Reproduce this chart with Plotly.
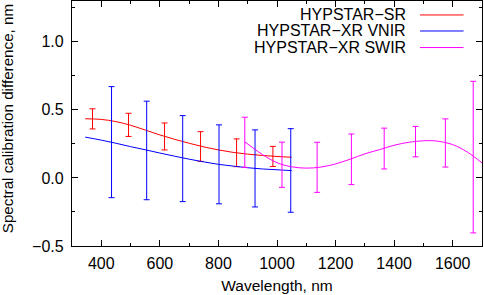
import plotly.graph_objects as go

# ---- data ----
# HYPSTAR-SR error-bar points
sr_x = [370, 493, 616, 739, 862, 986]
sr_y = [0.434, 0.390, 0.305, 0.231, 0.185, 0.158]
sr_err = [0.074, 0.085, 0.099, 0.109, 0.102, 0.074]
# HYPSTAR-SR smooth curve
sr_curve_x = [345, 400, 450, 500, 550, 600, 650, 700, 750, 800, 850, 900, 950, 1000, 1050]
sr_curve_y = [0.435, 0.430, 0.414, 0.387, 0.352, 0.316, 0.284, 0.255, 0.228, 0.206, 0.188, 0.175, 0.165, 0.158, 0.152]

# HYPSTAR-XR VNIR error-bar points
vnir_x = [435, 555, 678, 802, 925, 1047]
vnir_y = [0.263, 0.202, 0.142, 0.100, 0.070, 0.055]
vnir_err = [0.408, 0.362, 0.316, 0.290, 0.283, 0.307]
# HYPSTAR-XR VNIR smooth curve
vnir_curve_x = [345, 400, 450, 500, 550, 600, 650, 700, 750, 800, 850, 900, 950, 1000, 1050]
vnir_curve_y = [0.300, 0.278, 0.255, 0.230, 0.207, 0.183, 0.160, 0.138, 0.118, 0.100, 0.087, 0.075, 0.066, 0.060, 0.054]

# HYPSTAR-XR SWIR error-bar points
swir_x = [890, 1017, 1137, 1254, 1366, 1473, 1575, 1670]
swir_y = [0.262, 0.097, 0.078, 0.137, 0.216, 0.267, 0.257, 0.153]
swir_err = [0.184, 0.166, 0.184, 0.186, 0.150, 0.112, 0.177, 0.557]
# HYPSTAR-XR SWIR smooth curve
swir_curve_x = [890, 925, 950, 1000, 1050, 1100, 1150, 1200, 1250, 1300, 1350, 1400, 1450, 1500, 1525, 1550, 1600, 1650, 1700]
swir_curve_y = [0.265, 0.210, 0.172, 0.112, 0.082, 0.072, 0.080, 0.103, 0.138, 0.177, 0.208, 0.240, 0.262, 0.273, 0.274, 0.270, 0.245, 0.190, 0.110]

names = ["HYPSTAR\u2212SR", "HYPSTAR\u2212XR VNIR", "HYPSTAR\u2212XR SWIR"]
colors = ["#ff0000", "#0000ff", "#ff00ff"]
x_title = "Wavelength, nm"
y_title = "Spectral calibration difference, nm"

FONT = "Liberation Sans, Arial, Helvetica, sans-serif"

fig = go.Figure()

series = [
    (sr_x, sr_y, sr_err, sr_curve_x, sr_curve_y),
    (vnir_x, vnir_y, vnir_err, vnir_curve_x, vnir_curve_y),
    (swir_x, swir_y, swir_err, swir_curve_x, swir_curve_y),
]

for (px, py, pe, cx, cy), name, col in zip(series, names, colors):
    fig.add_trace(go.Scatter(
        x=cx, y=cy, mode="lines", name=name,
        line=dict(color=col, width=1, shape="spline", smoothing=1.0),
        showlegend=False, hoverinfo="skip",
    ))
    fig.add_trace(go.Scatter(
        x=px, y=py, mode="markers", name=name,
        marker=dict(color="rgba(0,0,0,0)", size=1),
        error_y=dict(type="data", array=pe, visible=True, color=col,
                     thickness=1, width=3),
        showlegend=False,
    ))

# gnuplot-style key: right-aligned text, sample line to its right
key_y = [0.943, 0.8776, 0.810]
for name, col, ky in zip(names, colors, key_y):
    fig.add_annotation(
        x=0.8195, y=ky, xref="paper", yref="paper",
        text=name, showarrow=False, xanchor="right", yanchor="middle",
        font=dict(family=FONT, size=16, color="black"),
    )
    fig.add_shape(
        type="line", xref="paper", yref="paper",
        x0=0.849, x1=0.955, y0=ky, y1=ky,
        line=dict(color=col, width=1),
    )

# y-axis title placed like gnuplot's ylabel
fig.add_annotation(
    x=-0.157, y=0.52, xref="paper", yref="paper",
    text=y_title, textangle=-90, showarrow=False,
    xanchor="center", yanchor="middle",
    font=dict(family=FONT, size=15.2, color="black"),
)

axis_common = dict(
    showline=True, linecolor="black", linewidth=1.2, mirror="ticks",
    ticks="inside", ticklen=6, tickwidth=1, tickcolor="black",
    showgrid=False, zeroline=False, automargin=False,
    tickfont=dict(family=FONT, size=16, color="black"),
)

fig.update_xaxes(
    range=[300, 1700], tick0=400, dtick=200,
    minor=dict(ticks="inside", ticklen=3, dtick=100, tick0=300, tickcolor="black", showgrid=False),
    title=dict(text=x_title, font=dict(family=FONT, size=15.5, color="black"), standoff=8),
    ticklabelstandoff=3,
    **axis_common,
)
fig.update_yaxes(
    range=[-0.5, 1.3], tick0=-0.5, dtick=0.5, tickformat=".1f",
    minor=dict(ticks="inside", ticklen=3, dtick=0.25, tick0=-0.5, tickcolor="black", showgrid=False),
    ticklabelstandoff=4,
    **axis_common,
)

fig.update_layout(
    width=484, height=295,
    margin=dict(l=72, r=2, t=1, b=49),
    plot_bgcolor="white", paper_bgcolor="white",
    font=dict(family=FONT, size=16, color="black"),
    showlegend=False,
)

fig.write_html("out.html", config={"displayModeBar": False},
               post_script="document.body.style.margin='0';")
